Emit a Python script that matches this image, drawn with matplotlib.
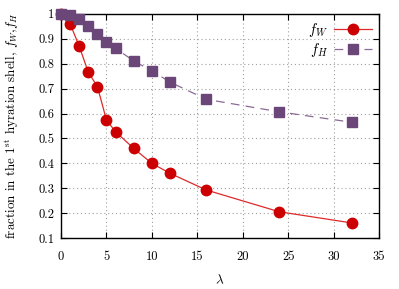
import matplotlib
matplotlib.use("Agg")
import matplotlib.pyplot as plt
from matplotlib.ticker import FuncFormatter

plt.rcParams["font.family"] = ["cmr10", "DejaVu Serif"]
plt.rcParams["mathtext.fontset"] = "cm"
plt.rcParams["axes.unicode_minus"] = False

# lambda values and fractions
lam = [0, 1, 2, 3, 4, 5, 6, 8, 10, 12, 16, 24, 32]
f_w = [1.0, 0.96, 0.87, 0.766, 0.708, 0.574, 0.527, 0.46, 0.40, 0.36, 0.293, 0.206, 0.161]
f_h = [1.0, 0.995, 0.98, 0.952, 0.918, 0.889, 0.862, 0.811, 0.771, 0.726, 0.657, 0.607, 0.565]

red = "#cc0000"
purple = "#6b4779"

fig, ax = plt.subplots(figsize=(3.99, 2.89), dpi=100)
fig.subplots_adjust(left=0.153, right=0.95, top=0.952, bottom=0.176)

ax.plot(lam, f_w, color="#dd2a2a", lw=0.9, marker="o", ms=7.5,
        mfc=red, mec=red, label=r"$f_W$", clip_on=False, zorder=3)
ax.plot(lam, f_h, color="#8a6a96", lw=0.9, ls=(0, (7, 5)), marker="s", ms=7,
        mfc=purple, mec=purple, label=r"$f_H$", clip_on=False, zorder=4)

ax.set_xlim(0, 35)
ax.set_ylim(0.1, 1.0)
ax.set_xticks(range(0, 36, 5))
ax.set_yticks([0.1, 0.2, 0.3, 0.4, 0.5, 0.6, 0.7, 0.8, 0.9, 1.0])
ax.yaxis.set_major_formatter(FuncFormatter(lambda v, p: f"{v:g}"))
ax.tick_params(direction="in", top=True, right=True, length=4, labelsize=9, pad=5)
ax.tick_params(axis="x", pad=9)
ax.grid(True, color="#a0a0a0", ls=(0, (1, 2.5)), lw=0.8)
for s in ax.spines.values():
    s.set_linewidth(1.0)

ax.set_xlabel(r"$\lambda$", fontsize=9.5, labelpad=8)
ax.set_ylabel(r"fraction in the 1$^{\rm st}$ hyration shell, $f_W$,$f_H$", fontsize=9.4)
ax.yaxis.set_label_coords(-0.125, 0.5)

ax.legend(loc="upper right", frameon=False, markerfirst=False, fontsize=10.5,
          handlelength=2.6, borderaxespad=0.1, labelspacing=0.15, handletextpad=0.4)

fig.savefig("out.png", dpi=100)
